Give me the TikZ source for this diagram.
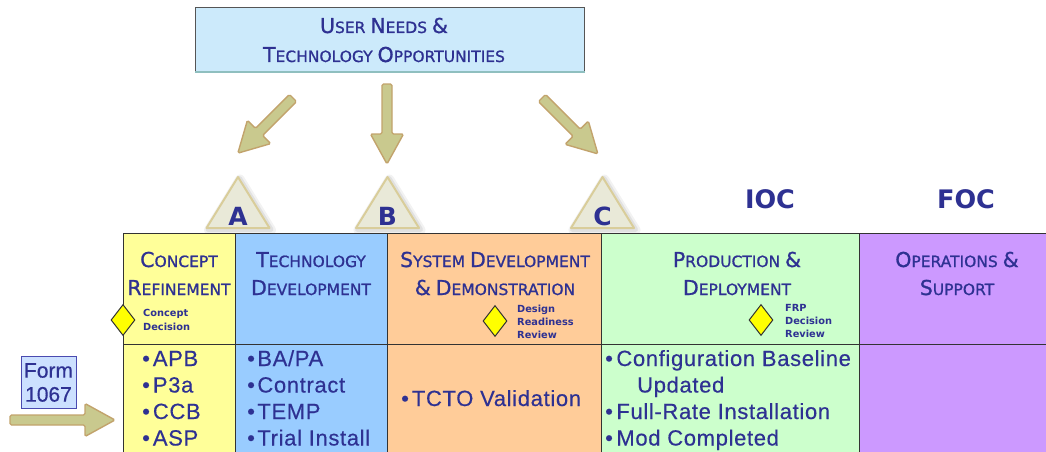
\documentclass[tikz,border=0pt]{standalone}
\usepackage{fontspec}
\setmainfont{Liberation Sans}[LetterSpace=3,FakeBold=0.4]
\newfontfamily\dvfont{DejaVu Sans}
\newfontfamily\dvhead{DejaVu Sans}[FakeBold=1]
\usetikzlibrary{shapes.geometric}
\definecolor{navy}{HTML}{2E3192}
\definecolor{topfill}{HTML}{CCEAFB}
\definecolor{topedge}{HTML}{555555}
\definecolor{topbottom}{HTML}{8FBFBF}
\definecolor{cyel}{HTML}{FFFF99}
\definecolor{cblu}{HTML}{99CCFF}
\definecolor{cora}{HTML}{FFCC99}
\definecolor{cgrn}{HTML}{CCFFCC}
\definecolor{cpur}{HTML}{CC99FF}
\definecolor{khaki}{HTML}{C9C98E}
\definecolor{khakiedge}{HTML}{C2A36C}
\definecolor{trifill}{HTML}{E9E9D8}
\definecolor{triedge}{HTML}{D9CD9A}
\definecolor{formfill}{HTML}{CCE0FF}
\definecolor{formedge}{HTML}{4A4AB0}
\definecolor{gridc}{HTML}{333333}
\definecolor{diafill}{HTML}{FFFF00}
\newcommand\BC[1]{{\fontsize{20.5}{22}\selectfont #1}}
\newcommand\fatarrow[3]{%
  \begin{scope}[shift={#1},rotate=#2]
    \draw[fatarrowsty] (0,-5) -- ({#3-30},-5) -- ({#3-30},-16.5) -- (#3,0)
      -- ({#3-30},16.5) -- ({#3-30},5) -- (0,5) -- cycle;
  \end{scope}}
\begin{document}
\begin{tikzpicture}[x=1pt,y=-1pt,
  fatarrowsty/.style={fill=khaki, draw=khakiedge, line width=1.4pt, rounded corners=1.5pt},
  hd/.style={font=\dvhead\fontsize{15.5}{18}\selectfont, text=navy, anchor=base, inner sep=0},
  cell/.style={draw=gridc, line width=1.3pt, inner sep=0, anchor=north west},
  dia/.style={shape=diamond, draw=black!80, fill=diafill, line width=1pt, minimum width=24pt, minimum height=31pt, inner sep=0},
  dl/.style={font=\dvfont\bfseries\fontsize{9.8}{12}\selectfont, text=navy, anchor=base west, inner sep=0},
  bd/.style={font=\fontsize{22}{26}\selectfont, text=navy, anchor=base west, inner sep=0},
  milestone/.style={font=\dvfont\bfseries\fontsize{25.5}{28}\selectfont, text=navy, anchor=base, inner sep=0},
  triletter/.style={font=\dvfont\bfseries\fontsize{25}{28}\selectfont, text=navy, anchor=base, inner sep=0}
]
\useasboundingbox (0,0) rectangle (1046,452);
\fill[white] (0,0) rectangle (1046,452);
\clip (0,0) rectangle (1046,452);

% top box
\node[draw=topedge, fill=topfill, line width=1.2pt, minimum width=389pt, minimum height=64pt,
      anchor=north west, inner sep=0] (needs) at (195,7) {};
\draw[topbottom, line width=1.5pt] (needs.south west) -- (needs.south east);
\node[hd] (needs1) at (384,33) {\BC{U}SER \BC{N}EEDS \BC{\&}};
\node[hd] (needs2) at (384,62) {\BC{T}ECHNOLOGY \BC{O}PPORTUNITIES};

% fat arrows
\fatarrow{(293,98)}{225}{78}
\fatarrow{(387,84)}{-90}{80}
\fatarrow{(542,98)}{-45}{79}
\fatarrow{(10,420)}{0}{105}

% milestone triangles
\foreach \cx/\lab/\nm in {238/A/ta, 387.5/B/tb, 602.5/C/tc} {
  \draw[line width=9pt, gray, opacity=0.10, line join=round]
    ({\cx+2},179) -- ({\cx+33.5},230) -- ({\cx-29.5},230) -- cycle;
  \draw[line width=5pt, gray, opacity=0.15, line join=round]
    ({\cx+1.5},178.5) -- ({\cx+33},229.5) -- ({\cx-30},229.5) -- cycle;
  \draw[fill=trifill, draw=triedge, line width=2pt, line join=round]
    (\cx,177) -- ({\cx+31.5},228) -- ({\cx-31.5},228) -- cycle;
  \node[triletter] (\nm) at (\cx,225) {\lab};
}

\node[milestone] (ioc) at (770,208) {IOC};
\node[milestone] (foc) at (966,208) {FOC};

% table cells
\node[cell, fill=cyel, minimum width=112pt, minimum height=111pt] (c1h) at (123,233) {};
\node[cell, fill=cblu, minimum width=152pt, minimum height=111pt] (c2h) at (235,233) {};
\node[cell, fill=cora, minimum width=214pt, minimum height=111pt] (c3h) at (387,233) {};
\node[cell, fill=cgrn, minimum width=258pt, minimum height=111pt] (c4h) at (601,233) {};
\node[cell, fill=cpur, minimum width=192pt, minimum height=111pt] (c5h) at (859,233) {};
\node[cell, fill=cyel, minimum width=112pt, minimum height=114pt] (c1b) at (123,344) {};
\node[cell, fill=cblu, minimum width=152pt, minimum height=114pt] (c2b) at (235,344) {};
\node[cell, fill=cora, minimum width=214pt, minimum height=114pt] (c3b) at (387,344) {};
\node[cell, fill=cgrn, minimum width=258pt, minimum height=114pt] (c4b) at (601,344) {};
\node[cell, fill=cpur, minimum width=192pt, minimum height=114pt] (c5b) at (859,344) {};

% headings
\node[hd] (h1a) at (179,267) {\BC{C}ONCEPT};
\node[hd] (h1b) at (179,295) {\BC{R}EFINEMENT};
\node[hd] (h2a) at (311,267) {\BC{T}ECHNOLOGY};
\node[hd] (h2b) at (311,295) {\BC{D}EVELOPMENT};
\node[hd] (h3a) at (495,267) {\BC{S}YSTEM \BC{D}EVELOPMENT};
\node[hd] (h3b) at (495,295) {\BC{\&} \BC{D}EMONSTRATION};
\node[hd] (h4a) at (737,267) {\BC{P}RODUCTION \BC{\&}};
\node[hd] (h4b) at (737,295) {\BC{D}EPLOYMENT};
\node[hd] (h5a) at (957,267) {\BC{O}PERATIONS \BC{\&}};
\node[hd] (h5b) at (957,295) {\BC{S}UPPORT};

% decision diamonds
\node[dia] (d1) at (123,320) {};
\node[dl] (d1a) at (143,316) {Concept};
\node[dl] (d1b) at (143,330) {Decision};
\node[dia] (d3) at (495,321) {};
\node[dl] (d3a) at (517,312) {Design};
\node[dl] (d3b) at (517,325) {Readiness};
\node[dl] (d3c) at (517,338) {Review};
\node[dia] (d4) at (761,320) {};
\node[dl] (d4a) at (785,311) {FRP};
\node[dl] (d4b) at (785,324) {Decision};
\node[dl] (d4c) at (785,337) {Review};

% body texts
\node[bd] (b1a) at (142,366)   {•\hspace{3pt}APB};
\node[bd] (b1b) at (142,392.5) {•\hspace{3pt}P3a};
\node[bd] (b1c) at (142,419)   {•\hspace{3pt}CCB};
\node[bd] (b1d) at (142,445.5) {•\hspace{3pt}ASP};
\node[bd] (b2a) at (247,366)   {•\hspace{2.5pt}BA/PA};
\node[bd] (b2b) at (247,392.5) {•\hspace{2.5pt}Contract};
\node[bd] (b2c) at (247,419)   {•\hspace{2.5pt}TEMP};
\node[bd] (b2d) at (247,445.5) {•\hspace{2.5pt}Trial Install};
\node[bd] (b3a) at (401,406)   {•\hspace{3pt}TCTO Validation};
\node[bd] (b4a) at (605,366)   {•\hspace{3.5pt}Configuration Baseline};
\node[bd] (b4b) at (637,392.5) {Updated};
\node[bd] (b4c) at (605,419)   {•\hspace{3.5pt}Full-Rate Installation};
\node[bd] (b4d) at (605,445.5) {•\hspace{3.5pt}Mod Completed};

% form 1067
\node[draw=formedge, fill=formfill, line width=1pt, minimum width=55pt, minimum height=52pt,
      inner sep=0, align=center, text=navy, font=\fontsize{21}{24}\selectfont\addfontfeatures{LetterSpace=0}]
      (form) at (48.5,382.5) {Form\\1067};
\end{tikzpicture}
\end{document}
